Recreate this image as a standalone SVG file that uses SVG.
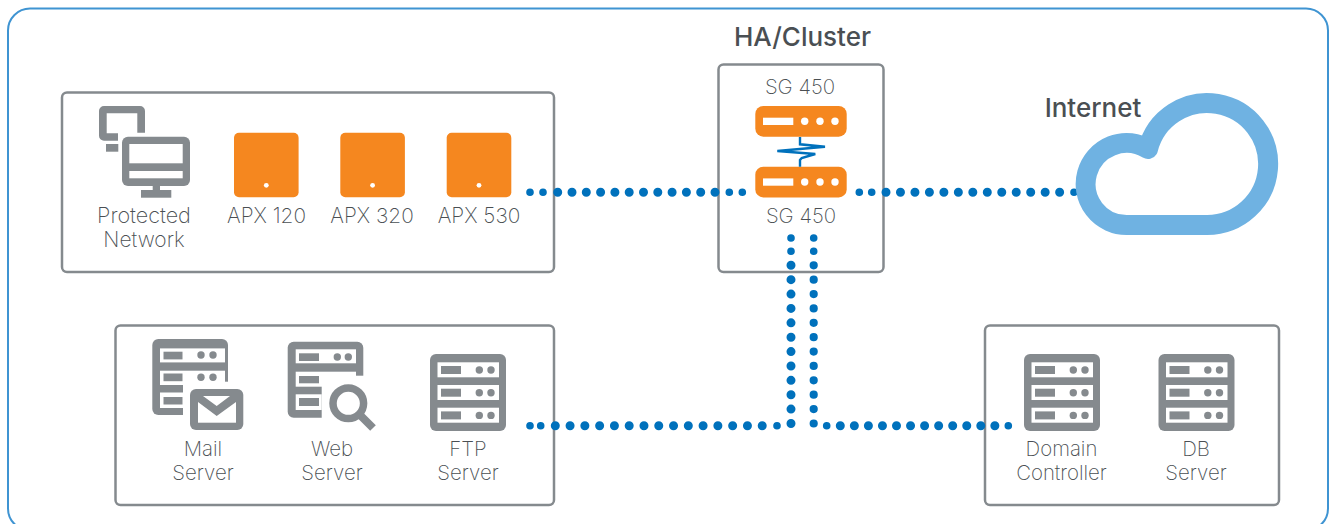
<svg xmlns="http://www.w3.org/2000/svg" xmlns:xlink="http://www.w3.org/1999/xlink" width="1330" height="524" viewBox="0 0 1330 524">
<style>
text{font-family:"Inter","Noto Sans",sans-serif;font-weight:250;font-size:20.4px;fill:#4a4f53;text-anchor:middle}
.h{font-weight:500;font-size:26px;fill:#4a4f53}
.apx{font-size:20.8px}
.frame{fill:#fff;stroke:#858a8e;stroke-width:2.5}
.g{fill:#858a8e}.w{fill:#fff}.o{fill:#f5871f}
.dots{fill:none;stroke:#0071bc;stroke-width:9;stroke-linecap:round}
.small{fill:none;stroke:#0071bc;stroke-width:7.6;stroke-linecap:round}
</style>
<defs>
<g id="rack">
<rect width="76" height="77" rx="6" class="g"/>
<g id="slot"><rect x="7.5" y="8.3" width="61.5" height="15" class="w"/><rect x="11" y="12" width="20" height="8" class="g"/><circle cx="49.3" cy="16" r="3.7" class="g"/><circle cx="61" cy="16" r="3.7" class="g"/></g>
<use xlink:href="#slot" y="22.7"/>
<use xlink:href="#slot" y="45.4"/>
</g>
<g id="apx"><rect width="64.6" height="64.6" rx="5" class="o"/><circle cx="32.3" cy="52.6" r="2.4" class="w"/></g>
<g id="sg"><rect width="91.4" height="30.7" rx="8" class="o"/><rect x="7.7" y="11.7" width="30.3" height="7.3" class="w"/><circle cx="49.4" cy="15.3" r="3.7" class="w"/><circle cx="64.7" cy="15.3" r="3.7" class="w"/><circle cx="79.7" cy="15.3" r="3.7" class="w"/></g>
</defs>
<rect id="outer-frame" x="8" y="8.5" width="1320" height="522" rx="22" fill="#fff" stroke="#3f94d2" stroke-width="2"/>
<g id="protected-group">
<rect class="frame" x="62" y="92.5" width="492" height="179.5" rx="5"/>
<g id="protected-network">
<path class="g" d="M104 106H140a5 5 0 0 1 5 5V132.7H137.3V113.3H106.7V133.3H118V140.7H104a5 5 0 0 1-5-5V111a5 5 0 0 1 5-5Z"/>
<rect class="g" x="106" y="144" width="12.3" height="7.7"/>
<rect class="g" x="122" y="136.7" width="68" height="49.3" rx="6"/>
<rect class="w" x="129.3" y="144" width="53.4" height="19.3"/>
<rect class="w" x="129.3" y="171" width="53.4" height="7.3"/>
<rect class="g" x="152.7" y="186" width="7.3" height="5"/>
<rect class="g" x="141" y="190" width="30.3" height="7.7"/>
<text x="144" y="223" style="font-size:21.6px">Protected</text><text x="144" y="247" style="font-size:21px">Network</text>
</g>
<g id="apx120"><use xlink:href="#apx" x="234" y="132.7"/><text class="apx" x="266.5" y="223">APX 120</text></g>
<g id="apx320"><use xlink:href="#apx" x="340.3" y="132.7"/><text class="apx" x="372" y="223">APX 320</text></g>
<g id="apx530"><use xlink:href="#apx" x="446.7" y="132.7"/><text class="apx" x="479" y="223">APX 530</text></g>
</g>
<g id="servers-group"><rect class="frame" x="115.5" y="325.5" width="438.5" height="179.5" rx="5"/></g>
<g id="internal-group"><rect class="frame" x="985" y="325.5" width="294" height="179.5" rx="5"/></g>
<g id="ha-cluster">
<rect class="frame" x="718.5" y="64.5" width="165" height="207.5" rx="5"/>
<text class="h" x="802.5" y="46">HA/Cluster</text>
<text x="800" y="94">SG 450</text>
<use xlink:href="#sg" x="755.3" y="106"/>
<use xlink:href="#sg" x="755.3" y="166.7"/>
<path d="M800 137V144.3L825 146.7L777.3 151L815.3 154L801.7 158L800 160V166.7" fill="none" stroke="#0071bc" stroke-width="2.4"/>
<text x="801" y="223">SG 450</text>
</g>
<g id="connectors">
<path class="small" d="M530 192.3h.01M543 192.3h.01M729.3 192.3h.01M742.3 192.3h.01"/>
<path class="dots" stroke-dasharray="0 14.3" d="M557.7 192.3H716.5"/>
<path class="small" d="M859.3 192.3h.01M871.7 192.3h.01M1074 192.3h.01"/>
<path class="dots" stroke-dasharray="0 14.47" d="M886 192.3H1060.5"/>
<path class="small" d="M791 238h.01M791 251.3h.01M813.7 238h.01M813.7 251.3h.01"/>
<path class="dots" stroke-dasharray="0 14.38" d="M791 265.3V424.8"/>
<path class="small" style="stroke-width:8.2" stroke-dasharray="0 14.38" d="M813.7 265.3V424.8"/>
<path class="small" d="M530 425.7h.01M540.7 425.7h.01M777 425.7h.01"/>
<path class="dots" stroke-dasharray="0 14.78" d="M555.3 425.7H763"/>
<path class="small" d="M826.7 425.7h.01M1008.3 425.7h.01"/>
<path class="dots" stroke-dasharray="0 14.05" d="M840.3 425.7H995.5"/>
</g>
<g id="internet">
<path d="M1207 225H1127A41 41 0 1 1 1148 149A61 61 0 1 1 1207 225Z" fill="#fff" stroke="#6fb2e2" stroke-width="20" stroke-linejoin="round"/>
<text class="h" x="1093" y="117">Internet</text>
</g>
<g id="mail-server">
<rect class="g" x="152.3" y="339" width="75.7" height="76" rx="6"/>
<rect class="w" x="183" y="381.7" width="50" height="35"/>
<rect class="w" x="160" y="348.4" width="65" height="14"/>
<rect class="w" x="160" y="370.7" width="65" height="14.3"/>
<rect class="w" x="160" y="392.5" width="23" height="15.5"/>
<rect class="g" x="163.5" y="351.7" width="19" height="7.7"/><circle class="g" cx="201" cy="355" r="3.7"/><circle class="g" cx="213" cy="355" r="3.7"/>
<rect class="g" x="163.5" y="373.5" width="19" height="7.7"/><circle class="g" cx="201" cy="377.3" r="3.7"/><circle class="g" cx="213" cy="377.3" r="3.7"/>
<rect class="g" x="163.5" y="397" width="19" height="7.5"/>
<rect class="g" x="190" y="389" width="53.3" height="41" rx="6"/>
<rect class="w" x="198" y="396" width="38" height="26.7"/>
<path class="g" d="M198 396H203L216.7 406L230 396H236V402L216.7 416L198 402Z"/>
<text x="203" y="456">Mail</text><text x="203" y="480">Server</text>
</g>
<g id="web-server">
<rect class="g" x="287.7" y="341.7" width="75.6" height="76" rx="6"/>
<rect class="w" x="321.7" y="375.7" width="50" height="45"/>
<rect class="w" x="295.7" y="349.3" width="60.3" height="14"/>
<rect class="w" x="295.7" y="371.7" width="60.3" height="15"/>
<rect class="w" x="295.7" y="394.3" width="26" height="15.7"/>
<rect class="g" x="299" y="353.3" width="20" height="7.7"/><circle class="g" cx="337.3" cy="357" r="3.7"/><circle class="g" cx="348.3" cy="357" r="3.7"/>
<rect class="g" x="299" y="376" width="20" height="7.3"/>
<rect class="g" x="299" y="398" width="20" height="8"/>
<circle cx="348.3" cy="403.3" r="15.3" fill="#fff" stroke="#858a8e" stroke-width="7.5"/>
<path d="M361 416L373 428" stroke="#858a8e" stroke-width="8" fill="none"/>
<text x="332" y="456">Web</text><text x="332" y="480">Server</text>
</g>
<g id="ftp-server"><use xlink:href="#rack" x="430" y="354"/><text x="468" y="456">FTP</text><text x="468" y="480">Server</text></g>
<g id="domain-controller"><use xlink:href="#rack" x="1024" y="354"/><text x="1061.5" y="456">Domain</text><text x="1061.5" y="480">Controller</text></g>
<g id="db-server"><use xlink:href="#rack" x="1158.5" y="354"/><text x="1196" y="456">DB</text><text x="1196" y="480">Server</text></g>
</svg>
